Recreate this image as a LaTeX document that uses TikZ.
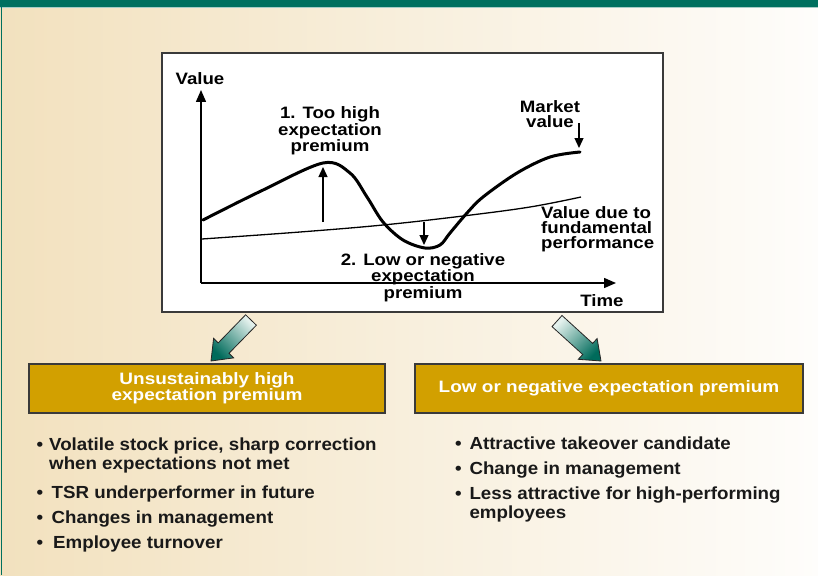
\documentclass[tikz,border=0pt]{standalone}
\usepackage{fontspec}
\setmainfont{Liberation Sans}
\newfontfamily\chartfont{Liberation Sans}[FakeStretch=1.13]
\newfontfamily\bulfont{Liberation Sans}[FakeStretch=1.07]
\newfontfamily\hdfont{Liberation Sans}[FakeStretch=1.15]
\usetikzlibrary{arrows.meta}
\definecolor{tealbar}{HTML}{00705F}
\definecolor{bgleft}{HTML}{F2E1BE}
\definecolor{bgmid}{HTML}{F8EEDF}
\definecolor{bgright}{HTML}{FEFDFB}
\definecolor{goldbox}{HTML}{D2A000}
\definecolor{arrowdark}{HTML}{006B5B}
\definecolor{arrowlight}{HTML}{E4F1ED}
\definecolor{frame}{HTML}{3A3A3A}
\begin{document}
\begin{tikzpicture}[x=1pt,y=-1pt,
  charttext/.style={font=\chartfont\bfseries\fontsize{16.5}{15}\selectfont, inner sep=0pt, align=center},
  bultext/.style={font=\bulfont\bfseries\fontsize{17.5}{19}\selectfont, inner sep=0pt, anchor=base west, text=black!90},
  buldot/.style={font=\bulfont\bfseries\fontsize{17.5}{19}\selectfont, inner sep=0pt, anchor=base, text=black!90},
  headbox/.style={draw=frame, line width=1.5pt, fill=goldbox, text=white, inner sep=0pt, align=center,
    font=\hdfont\bfseries\fontsize{16.5}{16}\selectfont},
  curvethick/.style={line width=3pt, line join=round, line cap=round},
  curvethin/.style={line width=1.3pt},
  axisline/.style={line width=1.5pt, -{Triangle[length=12pt,width=10pt]}},
  markarrow/.style={line width=1.3pt, -{Triangle[length=10pt,width=9pt]}},
  fatarrow/.style={draw=black!85, line width=0.8pt, top color=arrowlight, bottom color=arrowdark}
]
\useasboundingbox (0,0) rectangle (818,575);
% background
\shade[left color=bgleft, middle color=bgmid, right color=bgright] (0,0) rectangle (818,575);
\fill[tealbar] (0,0) rectangle (818,7);
\draw[tealbar!35, line width=0.8pt] (0,7.6) -- (818,7.6);
\fill[tealbar] (0.8,7) rectangle (2.4,575);

% chart frame
\node[draw=frame, line width=1.8pt, fill=white, minimum width=501pt, minimum height=259pt, inner sep=0pt] (chart) at (412.5,182.5) {};

% axes
\coordinate (origin) at (201,283);
\coordinate (ytip) at (201,90);
\coordinate (xtip) at (616,283);
\draw[axisline] (origin) -- (ytip);
\draw[axisline] (origin) -- (xtip);
\node[charttext] (valuelbl) at (200,79) {Value};
\node[charttext] (timelbl) at (602,301) {Time};

% fundamental value line
\draw[curvethin] plot[smooth, tension=0.6] coordinates {(202,239) (300,232) (383,225) (463,216) (530,207) (581,197)};
% market value curve
\draw[curvethick] plot[smooth, tension=0.55] coordinates {(203,220) (260,191.5) (323,163) (350,173) (367,197) (383,222) (403,240) (425,248) (440,245) (450,233) (467,213) (483,197) (517,173) (550,157) (580,152)};

% small arrows
\coordinate (a1s) at (323,222);
\coordinate (a1e) at (323,167);
\coordinate (a2s) at (424,222);
\coordinate (a2e) at (424,245);
\coordinate (a3s) at (579,123);
\coordinate (a3e) at (579,148);
\draw[markarrow] (a1s) -- (a1e);
\draw[markarrow] (a2s) -- (a2e);
\draw[markarrow] (a3s) -- (a3e);

% chart labels
\node[charttext] (toohigh) at (330,131) {1. Too high\\expectation\\premium};
\node[charttext] (market) at (550,114) {Market\\value};
\node[charttext, align=left, anchor=west] (fund) at (541,229) {Value due to\\fundamental\\performance};
\node[charttext] (lowneg) at (423,277.5) {2. Low or negative\\expectation\\premium};

% fat arrows
\shadedraw[fatarrow, shading angle=-45] (245.6,314.8) -- (218.2,342.9) -- (213.6,338.3) -- (211,361) -- (233.6,357.9) -- (229.0,353.3) -- (256.4,325.2) -- cycle;
\shadedraw[fatarrow, shading angle=45] (562.0,315.5) -- (592.7,343.4) -- (597.1,338.5) -- (601,361) -- (578.3,359.3) -- (582.7,354.5) -- (552.0,326.6) -- cycle;

% header boxes
\node[headbox, minimum width=356pt, minimum height=49pt] (lefthead) at (207,388.5) {Unsustainably high\\expectation premium};
\node[headbox, minimum width=388pt, minimum height=49pt] (righthead) at (609,388.5) {Low or negative expectation premium};

% left bullets
\node[buldot] (ld1) at (40,450.5) {•};
\node[bultext] (lt1) at (49,450.5) {Volatile stock price, sharp correction};
\node[bultext] (lt1b) at (49,469.5) {when expectations not met};
\node[buldot] (ld2) at (40,498.5) {•};
\node[bultext] (lt2) at (51.5,498.5) {TSR underperformer in future};
\node[buldot] (ld3) at (40,523.5) {•};
\node[bultext] (lt3) at (51.5,523.5) {Changes in management};
\node[buldot] (ld4) at (40,548.5) {•};
\node[bultext] (lt4) at (53,548.5) {Employee turnover};

% right bullets
\node[buldot] (rd1) at (458.5,449.5) {•};
\node[bultext] (rt1) at (469.3,449.5) {Attractive takeover candidate};
\node[buldot] (rd2) at (458.5,474.5) {•};
\node[bultext] (rt2) at (469.3,474.5) {Change in management};
\node[buldot] (rd3) at (458.5,499.5) {•};
\node[bultext] (rt3) at (469.3,499.5) {Less attractive for high-performing};
\node[bultext] (rt3b) at (469.3,518.5) {employees};
\end{tikzpicture}
\end{document}
